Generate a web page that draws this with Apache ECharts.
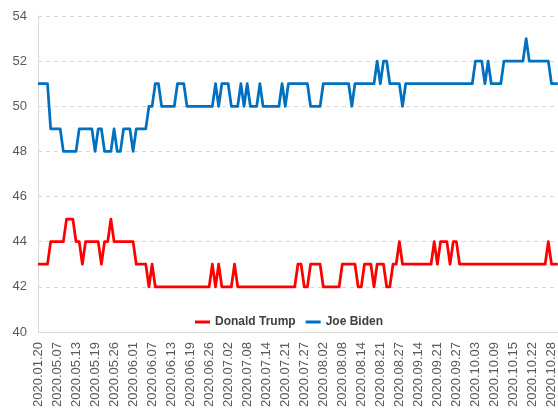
<!DOCTYPE html>
<html>
<head>
<meta charset="utf-8">
<script src="https://cdn.jsdelivr.net/npm/echarts@6/dist/echarts.min.js"></script>
<style>
  html, body { margin: 0; padding: 0; background: #fff; }
  #chart { width: 558px; height: 410px; }
</style>
</head>
<body>
<div id="chart"></div>
<script>
// poll dates (category axis, one label every 6th point)
const dates = [
  '2020.01.20','2020.05.02','2020.05.03','2020.05.04','2020.05.05','2020.05.06',
  '2020.05.07','2020.05.08','2020.05.09','2020.05.10','2020.05.11','2020.05.12',
  '2020.05.13','2020.05.14','2020.05.15','2020.05.16','2020.05.17','2020.05.18',
  '2020.05.19','2020.05.20','2020.05.21','2020.05.22','2020.05.23','2020.05.24',
  '2020.05.26','2020.05.27','2020.05.28','2020.05.29','2020.05.30','2020.05.31',
  '2020.06.01','2020.06.02','2020.06.03','2020.06.04','2020.06.05','2020.06.06',
  '2020.06.07','2020.06.08','2020.06.09','2020.06.10','2020.06.11','2020.06.12',
  '2020.06.13','2020.06.14','2020.06.15','2020.06.16','2020.06.17','2020.06.18',
  '2020.06.19','2020.06.20','2020.06.21','2020.06.22','2020.06.23','2020.06.24',
  '2020.06.26','2020.06.27','2020.06.28','2020.06.29','2020.06.30','2020.07.01',
  '2020.07.02','2020.07.03','2020.07.04','2020.07.05','2020.07.06','2020.07.07',
  '2020.07.08','2020.07.09','2020.07.10','2020.07.11','2020.07.12','2020.07.13',
  '2020.07.14','2020.07.15','2020.07.16','2020.07.17','2020.07.18','2020.07.19',
  '2020.07.21','2020.07.22','2020.07.23','2020.07.24','2020.07.25','2020.07.26',
  '2020.07.27','2020.07.28','2020.07.29','2020.07.30','2020.07.31','2020.08.01',
  '2020.08.02','2020.08.03','2020.08.04','2020.08.05','2020.08.06','2020.08.07',
  '2020.08.08','2020.08.09','2020.08.10','2020.08.11','2020.08.12','2020.08.13',
  '2020.08.14','2020.08.15','2020.08.16','2020.08.17','2020.08.18','2020.08.19',
  '2020.08.21','2020.08.22','2020.08.23','2020.08.24','2020.08.25','2020.08.26',
  '2020.08.27','2020.08.30','2020.09.02','2020.09.05','2020.09.08','2020.09.11',
  '2020.09.14','2020.09.15','2020.09.16','2020.09.17','2020.09.18','2020.09.19',
  '2020.09.21','2020.09.22','2020.09.23','2020.09.24','2020.09.25','2020.09.26',
  '2020.09.27','2020.09.28','2020.09.29','2020.09.30','2020.10.01','2020.10.02',
  '2020.10.03','2020.10.04','2020.10.05','2020.10.06','2020.10.07','2020.10.08',
  '2020.10.09','2020.10.10','2020.10.11','2020.10.12','2020.10.13','2020.10.14',
  '2020.10.15','2020.10.16','2020.10.17','2020.10.18','2020.10.19','2020.10.20',
  '2020.10.22','2020.10.23','2020.10.24','2020.10.25','2020.10.26','2020.10.27',
  '2020.10.28','2020.10.29','2020.10.30'
];

const trump = [
  43,43,43,43,44,44,
  44,44,44,45,45,45,
  44,44,43,44,44,44,
  44,44,43,44,44,45,
  44,44,44,44,44,44,
  44,43,43,43,43,42,
  43,42,42,42,42,42,
  42,42,42,42,42,42,
  42,42,42,42,42,42,
  42,43,42,43,42,42,
  42,42,43,42,42,42,
  42,42,42,42,42,42,
  42,42,42,42,42,42,
  42,42,42,42,43,43,
  42,42,43,43,43,43,
  42,42,42,42,42,42,
  43,43,43,43,43,42,
  42,43,43,43,42,43,
  43,43,42,42,43,43,
  44,43,43,43,43,43,
  43,43,43,43,43,44,
  43,44,44,44,43,44,
  44,43,43,43,43,43,
  43,43,43,43,43,43,
  43,43,43,43,43,43,
  43,43,43,43,43,43,
  43,43,43,43,43,44,
  43,43,43
];

const biden = [
  51,51,51,51,49,49,
  49,49,48,48,48,48,
  48,49,49,49,49,49,
  48,49,49,48,48,48,
  49,48,48,49,49,49,
  48,49,49,49,49,50,
  50,51,51,50,50,50,
  50,50,51,51,51,50,
  50,50,50,50,50,50,
  50,50,51,50,51,51,
  51,50,50,50,51,50,
  51,50,50,50,51,50,
  50,50,50,50,50,51,
  50,51,51,51,51,51,
  51,51,50,50,50,50,
  51,51,51,51,51,51,
  51,51,51,50,51,51,
  51,51,51,51,51,52,
  51,52,52,51,51,51,
  51,50,51,51,51,51,
  51,51,51,51,51,51,
  51,51,51,51,51,51,
  51,51,51,51,51,51,
  52,52,52,51,52,51,
  51,51,51,52,52,52,
  52,52,52,52,53,52,
  52,52,52,52,52,52,
  51,51,51
];

const yTicks = { min: 40, max: 54, step: 2 };

const chart = echarts.init(document.getElementById('chart'), null, { renderer: 'canvas' });

chart.setOption({
  backgroundColor: '#ffffff',
  animation: false,
  textStyle: { fontFamily: 'Liberation Sans, Arial, sans-serif' },
  grid: { left: 38, right: 0, top: 16, bottom: 76 },
  legend: {
    left: 190,
    top: 311,
    icon: 'rect',
    itemWidth: 15,
    itemHeight: 3,
    itemGap: 10,
    textStyle: { color: '#404040', fontSize: 12, fontWeight: 'bold' },
    data: ['Donald Trump', 'Joe Biden']
  },
  xAxis: {
    type: 'category',
    data: dates,
    boundaryGap: false,
    axisLine: { lineStyle: { color: '#d9d9d9', width: 1 } },
    axisTick: { show: false },
    axisLabel: {
      interval: 5,
      rotate: 90,
      color: '#595959',
      fontSize: 13,
      margin: 10
    }
  },
  yAxis: {
    type: 'value',
    min: yTicks.min,
    max: yTicks.max,
    interval: yTicks.step,
    axisLine: { show: true, lineStyle: { color: '#d9d9d9', width: 1 } },
    axisTick: { show: false },
    axisLabel: { color: '#595959', fontSize: 13, margin: 11 },
    splitLine: { lineStyle: { color: '#d9d9d9', type: [4, 4] } }
  },
  series: [
    {
      name: 'Donald Trump',
      type: 'line',
      data: trump,
      showSymbol: false,
      symbol: 'none',
      color: '#ff0000',
      lineStyle: { color: '#ff0000', width: 2.75, join: 'round' }
    },
    {
      name: 'Joe Biden',
      type: 'line',
      data: biden,
      showSymbol: false,
      symbol: 'none',
      color: '#0070c0',
      lineStyle: { color: '#0070c0', width: 2.75, join: 'round' }
    }
  ]
});
</script>
</body>
</html>
